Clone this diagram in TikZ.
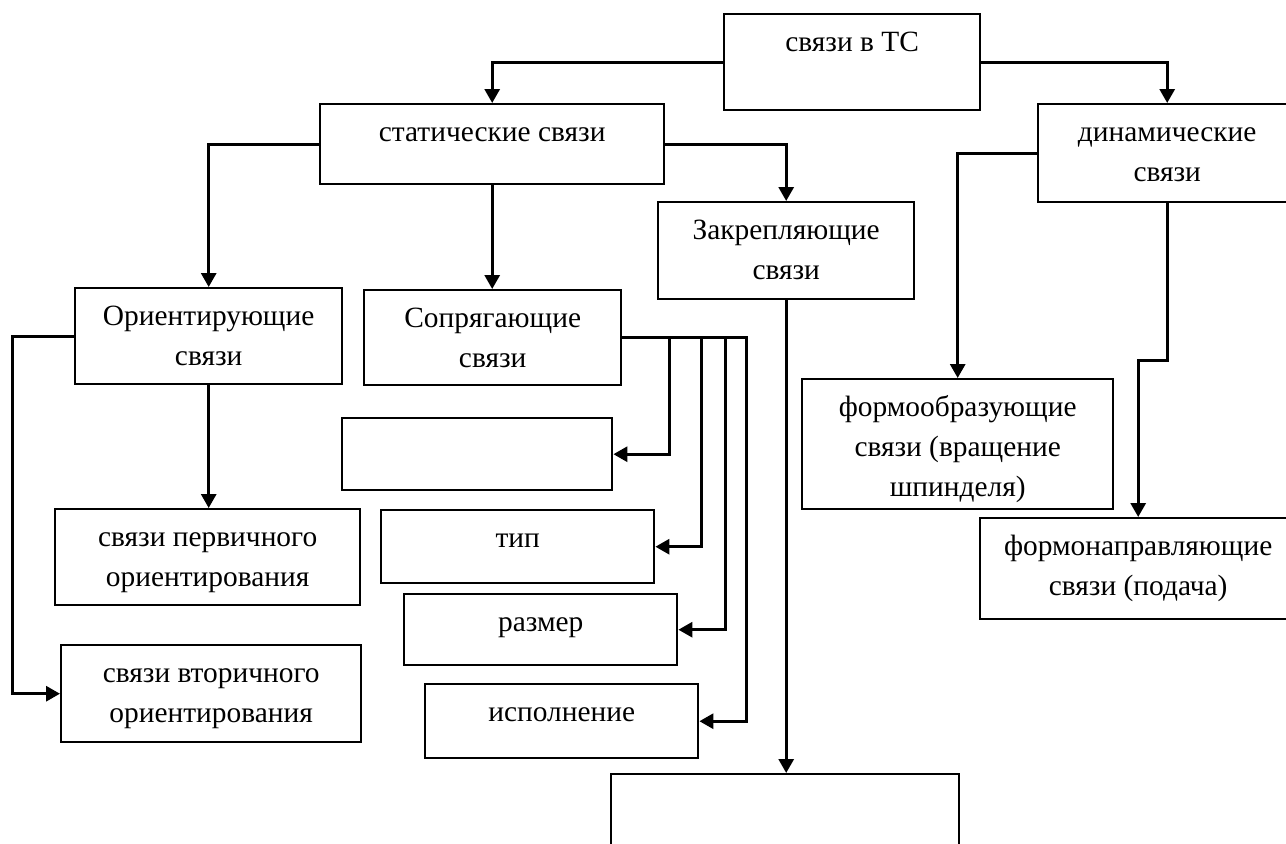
\documentclass[tikz,border=0pt]{standalone}
\usepackage{fontspec}
\setmainfont{Liberation Serif}
\usetikzlibrary{arrows.meta}
\newlength\pxu
\setlength\pxu{0.5pt}
\newcommand\blk[3]{\parbox[c][#2\pxu][t]{#1\pxu}{\centering\rule{0pt}{18.5pt}#3}}
\tikzset{
  blok/.style={draw, line width=1.2pt, inner sep=0pt, anchor=north west, font=\fontsize{14.7}{20}\selectfont},
  pfeil/.style={line width=1.5pt, -{Triangle[length=7pt,width=7.5pt]}}
}

\begin{document}
\begin{tikzpicture}[x=0.5pt, y=-0.5pt]
  \useasboundingbox (0,0) rectangle (1286,843);
  \node[blok] (ts) at (723,13) {\blk{256}{96}{связи в ТС}};
  \node[blok] (stat) at (319,103) {\blk{344}{80}{статические связи}};
  \node[blok] (dyn) at (1037,103) {\blk{258}{98}{динамические\\связи}};
  \node[blok] (zakr) at (657,201) {\blk{256}{97}{Закрепляющие\\связи}};
  \node[blok] (orient) at (74,287) {\blk{267}{96}{Ориентирующие\\связи}};
  \node[blok] (sopr) at (363,289) {\blk{257}{95}{Сопрягающие\\связи}};
  \node[blok] (leer) at (341,417) {\blk{270}{72}{}};
  \node[blok] (obr) at (801,378) {\blk{311}{130}{формообразующие\\связи (вращение\\шпинделя)}};
  \node[blok] (perv) at (54,508) {\blk{305}{96}{связи первичного\\ориентирования}};
  \node[blok] (typ) at (380,509) {\blk{273}{73}{тип}};
  \node[blok] (napr) at (979,517) {\blk{316}{101}{формонаправляющие\\связи (подача)}};
  \node[blok] (razm) at (403,593) {\blk{273}{71}{размер}};
  \node[blok] (vtor) at (60,644) {\blk{300}{97}{связи вторичного\\ориентирования}};
  \node[blok] (isp) at (424,683) {\blk{273}{74}{исполнение}};
  \node[blok] (unten) at (610,773) {\blk{348}{100}{}};

  \draw[pfeil] (ts.west) -| (stat.north);
  \draw[pfeil] (ts.east) -| (dyn.north);
  \draw[pfeil] (stat.west) -| (orient.north);
  \draw[pfeil] (stat.south) -- (stat.south |- sopr.north);
  \draw[pfeil] (stat.east) -| (zakr.north);
  \draw[pfeil] (zakr.south) -- (zakr.south |- unten.north);
  \draw[pfeil] (dyn.west) -| (obr.north);
  \draw[pfeil] (dyn.south) -- ++(0,157) -| (napr.north);
  \draw[pfeil] (orient.west) -- ++(-62,0) |- (vtor.west);
  \draw[pfeil] (orient.south) -- (orient.south |- perv.north);
  \foreach \ziel/\dx in {leer/47,typ/79,razm/103,isp/124}
    \draw[pfeil] (sopr.east) -- ++(\dx,0) |- (\ziel.east);
\end{tikzpicture}
\end{document}
